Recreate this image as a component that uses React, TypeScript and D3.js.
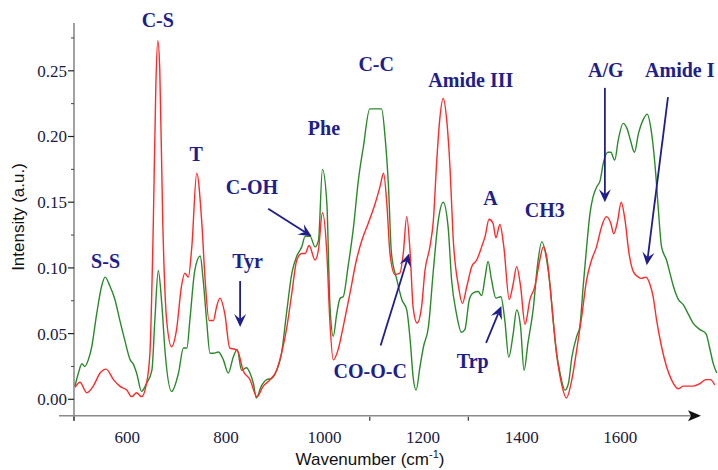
import React from "react";
import * as d3 from "d3";

// ---- Data (wavenumber cm^-1, intensity a.u.) ----
const greenWave = [502,509,516,522,529,536,546,556,563,573,583,593,603,614,620,627,637,647,658,664,671,678,685,698,712,722,729,735,745,756,762,769,776,783,793,803,813,823,831,840,850,857,864,870,880,891,901,911,921,931,942,952,962,969,979,989,996,1004,1013,1019,1026,1033,1040,1046,1056,1067,1077,1087,1100,1114,1124,1131,1138,1144,1155,1165,1175,1182,1188,1194,1202,1209,1219,1229,1239,1249,1259,1266,1276,1286,1293,1302,1310,1320,1327,1334,1340,1347,1356,1366,1374,1382,1391,1398,1406,1413,1421,1432,1440,1449,1459,1466,1472,1479,1486,1496,1503,1510,1520,1526,1533,1540,1547,1553,1561,1567,1574,1583,1589,1597,1604,1614,1622,1629,1637,1645,1655,1663,1670,1679,1685,1692,1702,1709,1716,1726,1736,1746,1756,1770,1782,1789,1797,1804];
const greenValue = [0.010,0.020,0.027,0.025,0.030,0.040,0.065,0.086,0.093,0.086,0.076,0.060,0.045,0.030,0.027,0.020,0.006,0.012,0.022,0.060,0.098,0.073,0.035,0.006,0.020,0.039,0.039,0.060,0.098,0.109,0.091,0.060,0.035,0.035,0.036,0.030,0.020,0.032,0.038,0.022,0.024,0.020,0.012,0.001,0.010,0.015,0.016,0.022,0.035,0.065,0.096,0.109,0.116,0.124,0.124,0.116,0.121,0.175,0.149,0.073,0.048,0.065,0.077,0.078,0.101,0.131,0.167,0.192,0.221,0.221,0.221,0.200,0.162,0.111,0.091,0.076,0.068,0.045,0.017,0.007,0.025,0.040,0.055,0.098,0.136,0.150,0.131,0.091,0.065,0.051,0.053,0.076,0.081,0.082,0.079,0.093,0.105,0.091,0.077,0.078,0.060,0.032,0.050,0.068,0.055,0.022,0.043,0.070,0.101,0.120,0.106,0.086,0.060,0.035,0.020,0.007,0.012,0.032,0.048,0.055,0.086,0.116,0.142,0.154,0.162,0.166,0.180,0.188,0.188,0.182,0.197,0.210,0.206,0.197,0.188,0.202,0.213,0.217,0.207,0.177,0.147,0.116,0.106,0.096,0.086,0.076,0.072,0.065,0.058,0.053,0.050,0.040,0.027,0.020];

const redWave = [502,512,526,539,553,565,580,593,607,617,627,637,647,654,661,666,670,674,680,688,698,708,718,725,732,739,749,759,766,774,783,789,796,806,816,827,833,843,857,871,884,898,911,921,931,942,952,962,969,977,989,996,1004,1013,1019,1026,1036,1046,1060,1073,1084,1097,1111,1121,1128,1135,1141,1151,1161,1168,1175,1182,1188,1196,1205,1212,1222,1229,1236,1242,1249,1256,1263,1269,1280,1288,1297,1307,1317,1327,1334,1342,1350,1356,1364,1372,1383,1391,1398,1406,1415,1425,1435,1445,1452,1460,1469,1479,1489,1499,1510,1520,1530,1540,1550,1560,1570,1580,1589,1595,1603,1610,1618,1626,1635,1645,1651,1660,1668,1675,1682,1692,1702,1712,1726,1736,1746,1756,1770,1782,1791,1800];
const redValue = [0.009,0.013,0.005,0.010,0.020,0.023,0.015,0.010,0.007,0.002,0.005,0.002,0.012,0.035,0.136,0.238,0.273,0.251,0.136,0.060,0.040,0.053,0.086,0.096,0.093,0.116,0.172,0.136,0.091,0.060,0.060,0.070,0.077,0.065,0.039,0.038,0.036,0.022,0.015,0.002,0.010,0.015,0.022,0.035,0.053,0.081,0.106,0.111,0.111,0.117,0.106,0.114,0.142,0.111,0.060,0.030,0.038,0.055,0.081,0.106,0.121,0.134,0.149,0.162,0.172,0.147,0.111,0.095,0.096,0.111,0.139,0.111,0.070,0.058,0.070,0.098,0.116,0.136,0.182,0.213,0.229,0.213,0.175,0.124,0.086,0.073,0.086,0.101,0.106,0.116,0.124,0.137,0.134,0.123,0.133,0.116,0.076,0.088,0.101,0.086,0.057,0.076,0.086,0.106,0.116,0.106,0.073,0.035,0.012,0.001,0.015,0.038,0.063,0.091,0.106,0.116,0.131,0.139,0.134,0.126,0.136,0.150,0.136,0.111,0.097,0.093,0.092,0.093,0.088,0.078,0.060,0.040,0.025,0.015,0.008,0.010,0.010,0.010,0.012,0.015,0.015,0.011];

const yTicks = [0, 0.05, 0.1, 0.15, 0.2, 0.25];
const yMinorTicks = [0.025, 0.075, 0.125, 0.175, 0.225, 0.275];
const xTickLabels = [600, 800, 1000, 1200, 1400, 1600];
const xTickMarks = [500, 1100, 1300];

// Annotations: label text with anchor (wavenumber, intensity)
const labelText = ["C-S", "T", "Phe", "C-OH", "C-C", "Amide III", "A/G", "Amide I", "A", "CH3", "S-S", "Tyr", "Trp", "CO-O-C"];
const labelWave = [670, 748, 1007, 861, 1113, 1305, 1579, 1729, 1345, 1455, 564, 852, 1309, 1101];
const labelValue = [0.283, 0.181, 0.201, 0.156, 0.250, 0.238, 0.245, 0.245, 0.148, 0.139, 0.100, 0.100, 0.024, 0.016];

// Arrows: from (w0,v0) to tip (w1,v1)
const arrowFromWave = [894, 837, 1122, 1336, 1577, 1705];
const arrowFromValue = [0.145, 0.090, 0.041, 0.043, 0.237, 0.230];
const arrowToWave = [982, 837, 1180, 1367, 1577, 1662];
const arrowToValue = [0.124, 0.055, 0.111, 0.071, 0.150, 0.102];

const W = 718;
const H = 470;

export default function App() {
  const x = d3.scaleLinear().domain([500, 1772]).range([74, 701]);
  const y = d3.scaleLinear().domain([0, 0.25]).range([399.3, 70.8]);

  const line = d3
    .line<[number, number]>()
    .x((d) => x(d[0]))
    .y((d) => y(d[1]))
    .curve(d3.curveMonotoneX);

  const green = greenWave.map((w, i) => [w, greenValue[i]] as [number, number]);
  const red = redWave.map((w, i) => [w, redValue[i]] as [number, number]);

  const axisY = y(-0.0125);
  const axisX = x(500);
  const navy = "#1e1e8c";

  const arrows = arrowFromWave.map((_, i) => {
    const x0 = x(arrowFromWave[i]);
    const y0 = y(arrowFromValue[i]);
    const x1 = x(arrowToWave[i]);
    const y1 = y(arrowToValue[i]);
    const ang = Math.atan2(y1 - y0, x1 - x0);
    const L = 13;
    const hw = 6;
    const notch = 8;
    const ux = Math.cos(ang);
    const uy = Math.sin(ang);
    const bx = x1 - ux * L;
    const by = y1 - uy * L;
    const p = [
      [x1, y1],
      [bx - uy * hw, by + ux * hw],
      [x1 - ux * notch, y1 - uy * notch],
      [bx + uy * hw, by - ux * hw],
    ];
    return (
      <g key={"a" + i}>
        <line
          x1={x0}
          y1={y0}
          x2={x1 - ux * notch}
          y2={y1 - uy * notch}
          stroke={navy}
          strokeWidth={1.8}
        />
        <polygon points={p.map((q) => q.join(",")).join(" ")} fill={navy} />
      </g>
    );
  });

  return (
    <svg
      width={W}
      height={H}
      style={{ position: "absolute", left: 0, top: 0, background: "#fff" }}
    >
      {/* axes */}
      <line x1={axisX} y1={23} x2={axisX} y2={421} stroke="#8a8a8a" strokeWidth={1.6} />
      <line x1={59} y1={axisY} x2={692} y2={axisY} stroke="#8a8a8a" strokeWidth={1.6} />
      <path
        d={`M${688},${axisY - 5.5} L${701},${axisY} L${688},${axisY + 5.5} L${691},${axisY} Z`}
        fill="#111"
      />
      {yTicks.map((t) => (
        <g key={"yt" + t}>
          <line x1={axisX - 6} x2={axisX} y1={y(t)} y2={y(t)} stroke="#222" strokeWidth={1.2} />
          <text
            x={axisX - 7}
            y={y(t)}
            dy="0.35em"
            textAnchor="end"
            fontFamily="'Liberation Serif', 'Times New Roman', serif"
            fontSize={17}
            fill="#1a1a40"
          >
            {t.toFixed(2)}
          </text>
        </g>
      ))}
      {yMinorTicks.map((t) => (
        <line key={"ym" + t} x1={axisX - 3} x2={axisX} y1={y(t)} y2={y(t)} stroke="#444" strokeWidth={1} />
      ))}
      {xTickMarks.map((t) => (
        <line key={"xm" + t} x1={x(t)} x2={x(t)} y1={axisY + 1} y2={axisY + 5} stroke="#333" strokeWidth={1.2} />
      ))}
      {xTickLabels.map((t) => (
        <text
          key={"xt" + t}
          x={x(t) + 4}
          y={443}
          textAnchor="middle"
          fontFamily="'Liberation Serif', 'Times New Roman', serif"
          fontSize={17}
          fill="#1a1a40"
        >
          {t}
        </text>
      ))}
      <text
        transform={`translate(24,217) rotate(-90)`}
        textAnchor="middle"
        fontFamily="'Liberation Sans', Arial, sans-serif"
        fontSize={17}
        fill="#111"
      >
        Intensity (a.u.)
      </text>
      <text
        x={370}
        y={465}
        textAnchor="middle"
        fontFamily="'Liberation Sans', Arial, sans-serif"
        fontSize={17}
        fill="#111"
      >
        Wavenumber (cm
        <tspan fontSize={11} dy={-7}>-1</tspan>
        <tspan dy={7}>)</tspan>
      </text>

      {/* spectra */}
      <path d={line(green) || ""} fill="none" stroke="#2a8a2a" strokeWidth={1.4} />
      <path d={line(red) || ""} fill="none" stroke="#ff2a2a" strokeWidth={1.4} />

      {/* annotations */}
      {arrows}
      {labelText.map((t, i) => (
        <text
          key={"l" + i}
          x={x(labelWave[i])}
          y={y(labelValue[i])}
          textAnchor="middle"
          fontFamily="'Liberation Serif', 'Times New Roman', serif"
          fontWeight="bold"
          fontSize={20}
          fill={navy}
        >
          {t}
        </text>
      ))}
    </svg>
  );
}
